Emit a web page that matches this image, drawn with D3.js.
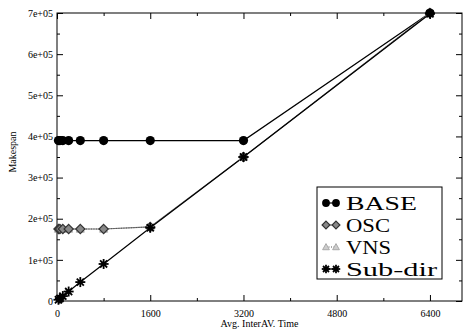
<!DOCTYPE html>
<html>
<head>
<meta charset="utf-8">
<script src="https://cdn.jsdelivr.net/npm/d3@7"></script>
<style>
  body { margin: 0; background: #fff; }
  svg { display: block; }
</style>
</head>
<body>
<svg id="chart" width="465" height="333"></svg>
<script>
// Average inter-arrival time (x) and makespan per scheduling strategy
const interArrival = [25, 50, 100, 200, 400, 800, 1600, 3200, 6400];
const baseSpan   = [390000, 390000, 390000, 390000, 390000, 390000, 390000, 390000, 700000];
const oscSpan    = [175000, 175000, 175000, 175000, 175000, 175000, 180000, 350000, 700000];
const vnsSpan    = [175000, 175000, 175000, 175000, 175000, 175000, 180000, 350000, 700000];
const subdirSpan = [3000, 6000, 12000, 23000, 46000, 90000, 178000, 350000, 698000];
const seriesNames = ["BASE", "OSC", "VNS", "Sub-dir"];
const xTickValues = [0, 1600, 3200, 4800, 6400];
const yTickValues = [0, 100000, 200000, 300000, 400000, 500000, 600000, 700000];
const yTickLabels = ["0", "1e+05", "2e+05", "3e+05", "4e+05", "5e+05", "6e+05", "7e+05"];

const SERIF = "'Liberation Serif', 'Times New Roman', Times, 'DejaVu Serif', serif";

const svg = d3.select("#chart");
const m = { left: 57, right: 462, top: 13, bottom: 301 };

const x = d3.scaleLinear().domain([0, 6950]).range([m.left, m.right]);
const y = d3.scaleLinear().domain([0, 700000]).range([m.bottom, m.top]);

// Frame
svg.append("rect")
  .attr("x", m.left).attr("y", m.top)
  .attr("width", m.right - m.left).attr("height", m.bottom - m.top)
  .attr("fill", "none").attr("stroke", "#000").attr("stroke-width", 1);

// Minor tick positions
const xMinor = d3.range(800, 6950, 1600);
const yMinor = d3.range(50000, 700000, 100000);

function styleAxis(g) {
  g.attr("font-family", null);
  g.select(".domain").remove();
  g.selectAll("line").attr("stroke", "#000");
  g.selectAll("text").style("font-size", "10px").style("font-family", SERIF).attr("fill", "#000");
}

// Bottom axis: ticks point into plot
svg.append("g").attr("transform", `translate(0,${m.bottom})`)
  .call(d3.axisBottom(x).tickValues(xTickValues).tickSizeInner(-6).tickSizeOuter(0).tickPadding(9).tickFormat(d3.format("d")))
  .call(styleAxis);
svg.append("g").attr("transform", `translate(0,${m.bottom})`)
  .call(d3.axisBottom(x).tickValues(xMinor).tickSize(-3).tickFormat(""))
  .call(styleAxis);

// Top axis ticks
svg.append("g").attr("transform", `translate(0,${m.top})`)
  .call(d3.axisTop(x).tickValues(xTickValues).tickSize(-6).tickFormat(""))
  .call(styleAxis);
svg.append("g").attr("transform", `translate(0,${m.top})`)
  .call(d3.axisTop(x).tickValues(xMinor).tickSize(-3).tickFormat(""))
  .call(styleAxis);

// Left axis
svg.append("g").attr("transform", `translate(${m.left},0)`)
  .call(d3.axisLeft(y).tickValues(yTickValues).tickSizeInner(-6).tickSizeOuter(0).tickPadding(4)
    .tickFormat((d, i) => yTickLabels[i]))
  .call(styleAxis);
svg.append("g").attr("transform", `translate(${m.left},0)`)
  .call(d3.axisLeft(y).tickValues(yMinor).tickSize(-3).tickFormat(""))
  .call(styleAxis);

// Right axis ticks
svg.append("g").attr("transform", `translate(${m.right},0)`)
  .call(d3.axisRight(y).tickValues(yTickValues).tickSize(-6).tickFormat(""))
  .call(styleAxis);
svg.append("g").attr("transform", `translate(${m.right},0)`)
  .call(d3.axisRight(y).tickValues(yMinor).tickSize(-3).tickFormat(""))
  .call(styleAxis);

// Axis titles
svg.append("text")
  .attr("x", (m.left + m.right) / 2).attr("y", 327)
  .attr("text-anchor", "middle").style("font-size", "10px").style("font-family", SERIF)
  .text("Avg. InterAV. Time");
svg.append("text")
  .attr("transform", `translate(16,${(m.top + m.bottom) / 2 - 5}) rotate(-90)`)
  .attr("text-anchor", "middle").style("font-size", "10px").style("font-family", SERIF)
  .text("Makespan");

// Series styling
const styles = {
  "BASE":    { line: "#000", dash: null,  width: 1.2, marker: "circle" },
  "OSC":     { line: "#777", dash: null,  width: 1.2, marker: "diamond" },
  "VNS":     { line: "#555", dash: "1,1.5", width: 1, marker: "triangle" },
  "Sub-dir": { line: "#000", dash: null,  width: 1.2, marker: "star" }
};
const seriesValues = { "BASE": baseSpan, "OSC": oscSpan, "VNS": vnsSpan, "Sub-dir": subdirSpan };

function drawMarker(g, type, cx, cy, scale) {
  const s = scale || 1;
  if (type === "circle") {
    g.append("circle").attr("cx", cx).attr("cy", cy).attr("r", 4.6 * s).attr("fill", "#000");
  } else if (type === "diamond") {
    const r = 4.6 * s;
    g.append("path")
      .attr("d", `M${cx},${cy - r}L${cx + r},${cy}L${cx},${cy + r}L${cx - r},${cy}Z`)
      .attr("fill", "#888").attr("stroke", "#333").attr("stroke-width", 1.2);
  } else if (type === "triangle") {
    const r = 4 * s;
    g.append("path")
      .attr("d", `M${cx},${cy - r}L${cx + r},${cy + r * 0.8}L${cx - r},${cy + r * 0.8}Z`)
      .attr("fill", "#ccc").attr("stroke", "#aaa").attr("stroke-width", 1);
  } else if (type === "star") {
    const r = 5 * s;
    const arms = g.append("g").attr("stroke", "#000").attr("stroke-width", 1.8);
    for (let k = 0; k < 4; k++) {
      const a = k * Math.PI / 4;
      arms.append("line")
        .attr("x1", cx - r * Math.cos(a)).attr("y1", cy - r * Math.sin(a))
        .attr("x2", cx + r * Math.cos(a)).attr("y2", cy + r * Math.sin(a));
    }
    g.append("circle").attr("cx", cx).attr("cy", cy).attr("r", 2.4 * s).attr("fill", "#000");
  }
}

const line = d3.line().x(d => x(d[0])).y(d => y(d[1]));
const plot = svg.append("g");

// Lines first, then markers
seriesNames.forEach(name => {
  const st = styles[name];
  const pts = interArrival.map((t, i) => [t, seriesValues[name][i]]);
  plot.append("path").datum(pts)
    .attr("d", line).attr("fill", "none")
    .attr("stroke", st.line).attr("stroke-width", st.width)
    .attr("stroke-dasharray", st.dash);
});
["VNS", "OSC", "BASE", "Sub-dir"].forEach(name => {
  const st = styles[name];
  const g = plot.append("g");
  interArrival.forEach((t, i) => drawMarker(g, st.marker, x(t), y(seriesValues[name][i])));
});

// Legend
const lg = svg.append("g");
lg.append("rect").attr("x", 317).attr("y", 187).attr("width", 125).attr("height", 92)
  .attr("fill", "#fff").attr("stroke", "#000").attr("stroke-width", 1);
seriesNames.forEach((name, i) => {
  const st = styles[name];
  const cy = 203 + i * 22;
  lg.append("line").attr("x1", 326).attr("x2", 336).attr("y1", cy).attr("y2", cy)
    .attr("stroke", st.line).attr("stroke-width", st.width).attr("stroke-dasharray", st.dash);
  drawMarker(lg, st.marker, 326, cy, 0.85);
  drawMarker(lg, st.marker, 336, cy, 0.85);
  lg.append("text").attr("x", 346).attr("y", cy + 7)
    .style("font-size", "19px").style("font-family", SERIF).attr("fill", "#000")
    .attr("textLength", [71, 44, 45, 91][i]).attr("lengthAdjust", "spacingAndGlyphs")
    .text(name);
});
</script>
</body>
</html>
